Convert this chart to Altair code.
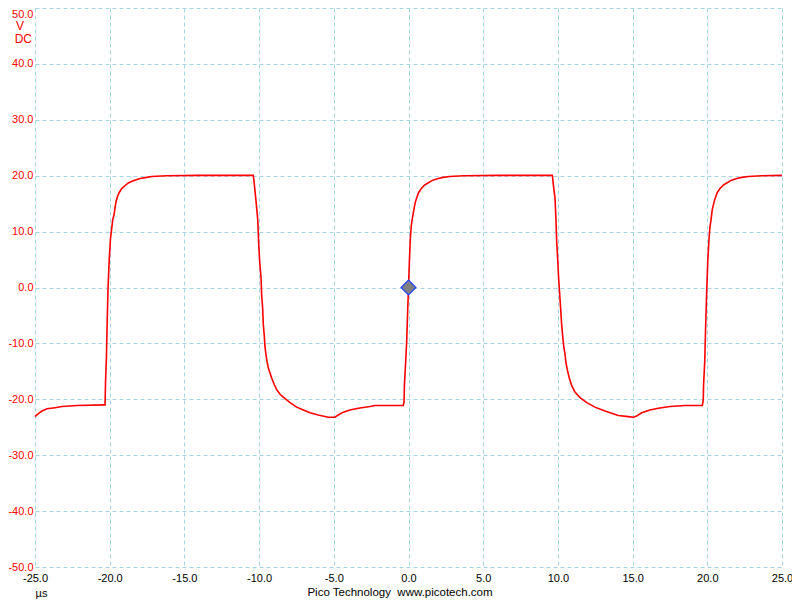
import altair as alt
import pandas as pd

# ---- data (time in µs, voltage in V) ----
time_us = [
    -25.0, -24.8, -24.53, -24.2, -23.66, -23.19, -22.19, -20.38,
    -20.31, -20.28, -20.22, -20.17, -20.11, -20.03, -19.95, -19.85, -19.80, -19.71,
    -19.65, -19.58, -19.49, -19.36, -19.20, -18.98, -18.76, -18.42, -17.97, -17.52,
    -17.19, -16.19, -14.0, -10.45,
    -10.39, -10.32, -10.21, -10.09, -10.03, -9.96, -9.87, -9.83, -9.76, -9.72,
    -9.65, -9.61, -9.54, -9.47, -9.38, -9.27, -9.16, -8.98, -8.82, -8.60, -8.38,
    -7.93, -7.48, -7.04, -6.59, -6.04, -5.37, -4.92, -4.70, -4.36, -3.92, -3.36,
    -2.58, -2.24, -0.35,
    -0.30, -0.27, -0.18, -0.12, -0.06, 0.0, 0.06, 0.12, 0.18, 0.24, 0.33, 0.40,
    0.47, 0.57, 0.68, 0.86, 1.07, 1.30, 1.63, 1.98, 2.32, 2.75, 3.70, 6.0, 9.57,
    9.63, 9.69, 9.81, 9.87, 9.92, 9.99, 10.05, 10.12, 10.19, 10.25, 10.32, 10.39,
    10.48, 10.54, 10.63, 10.76, 10.92, 11.14, 11.48, 11.93, 12.48, 13.15, 14.04,
    14.71, 15.05, 15.27, 15.61, 16.16, 16.72, 17.50, 18.5, 19.67,
    19.73, 19.75, 19.83, 19.89, 19.96, 20.03, 20.11, 20.18, 20.25, 20.33, 20.40,
    20.47, 20.56, 20.67, 20.85, 21.07, 21.30, 21.63, 21.97, 22.30, 22.74, 23.64, 25.0,
]
volts = [
    -23.1, -22.6, -22.1, -21.7, -21.5, -21.3, -21.1, -21.0,
    -21.0, -17.0, -12.6, -6.4, 0.0, 5.0, 8.7, 10.9, 12.1, 13.0,
    14.1, 15.3, 16.2, 17.0, 17.7, 18.2, 18.7, 19.1, 19.5, 19.7,
    19.85, 20.0, 20.05, 20.05,
    20.05, 18.5, 15.6, 12.1, 7.9, 4.6, 1.7, -1.3, -3.8, -6.6,
    -8.7, -10.5, -12.0, -13.2, -14.4, -15.3, -16.2, -17.4, -18.3, -19.1, -19.6,
    -20.6, -21.4, -21.9, -22.4, -22.8, -23.2, -23.2, -22.8, -22.3, -21.9, -21.6,
    -21.3, -21.1, -21.1,
    -20.5, -17.3, -12.8, -9.6, -4.5, 0.0, 4.7, 8.6, 10.9, 12.1, 13.5, 14.5,
    15.4, 16.2, 17.0, 17.7, 18.3, 18.7, 19.2, 19.5, 19.7, 19.85, 20.0, 20.05, 20.05,
    20.05, 18.5, 15.9, 12.1, 8.2, 4.8, 1.6, -1.2, -4.0, -6.6, -8.7, -10.5,
    -12.0, -13.5, -14.7, -16.2, -17.5, -18.7, -19.7, -20.6, -21.4, -22.1, -22.9,
    -23.1, -23.2, -23.0, -22.4, -21.9, -21.6, -21.3, -21.1, -21.1,
    -20.1, -17.5, -13.1, -6.9, -0.6, 4.6, 8.5, 10.9, 12.1, 13.9, 14.7,
    15.5, 16.2, 17.0, 17.7, 18.3, 18.7, 19.2, 19.5, 19.7, 19.85, 20.0, 20.05,
]
marker_t = [0.0]
marker_v = [0.0]

x_ticks = [-25, -20, -15, -10, -5, 0, 5, 10, 15, 20, 25]
y_ticks = [-50, -40, -30, -20, -10, 0, 10, 20, 30, 40, 50]

unit_label = "V"
coupling_label = "DC"
time_unit_label = "µs"
footer_label = "Pico Technology\u00a0\u00a0www.picotech.com"

# ---- build ----
trace = pd.DataFrame({"t": time_us, "v": volts})
marker = pd.DataFrame({"t": marker_t, "v": marker_v})

FONT = "Liberation Sans"
GRID = "#a6d5e3"
RED = "#ff0000"
FS = 11

label_expr = "(datum.value < 0 ? '-' : '') + format(abs(datum.value), '.1f')"

x_enc = alt.X(
    "t:Q",
    scale=alt.Scale(domain=[-25, 25], nice=False, zero=False),
    axis=alt.Axis(
        values=x_ticks, labelExpr=label_expr, title=None, grid=True,
        gridColor=GRID, gridDash=[4, 3], gridWidth=1, domain=False, ticks=False,
        labelColor="#000000", labelFont=FONT, labelFontSize=FS, labelPadding=5,
        labelFlush=False, labelOverlap=False,
    ),
)
y_enc = alt.Y(
    "v:Q",
    scale=alt.Scale(domain=[-50, 50], nice=False, zero=False),
    axis=alt.Axis(
        values=y_ticks, labelExpr=label_expr, title=None, grid=True,
        gridColor=GRID, gridDash=[4, 3], gridWidth=1, domain=False, ticks=False,
        labelColor=RED, labelFont=FONT, labelFontSize=FS, labelPadding=2,
        labelFlush=False, labelOverlap=False,
        labelBaseline={"condition": {"test": "datum.value == 50", "value": "top"},
                       "value": "middle"},
    ),
)

line = alt.Chart(trace).mark_line(
    color=RED, strokeWidth=1.6, interpolate="linear"
).encode(x=x_enc, y=y_enc)

diamond = alt.Chart(marker).mark_point(
    shape="diamond", filled=True, size=220, fill="#808080",
    stroke="#2040ff", strokeWidth=1.2, opacity=1,
).encode(x="t:Q", y="v:Q")


def label(text, x, y, color, align="center", size=FS):
    return alt.Chart(pd.DataFrame({"s": [text]})).mark_text(
        font=FONT, fontSize=size, color=color, align=align, baseline="middle"
    ).encode(text="s:N", x=alt.value(x), y=alt.value(y))


v_lab = label(unit_label, -15, 18, RED, size=12)
dc_lab = label(coupling_label, -3, 31, RED, align="right", size=12)
us_lab = label(time_unit_label, 6.5, 586, "#000000")
foot_lab = label(footer_label, 365, 585, "#000000", size=11.5)

chart = alt.layer(line, diamond, v_lab, dc_lab, us_lab, foot_lab).properties(
    width=747, height=559,
    autosize=alt.AutoSizeParams(type="none"),
    padding={"left": 27, "top": 0, "right": 10, "bottom": 33},
    background="#ffffff",
).configure_view(strokeWidth=0)

chart.save("out.html", embed_options={"renderer": "svg", "actions": False})
